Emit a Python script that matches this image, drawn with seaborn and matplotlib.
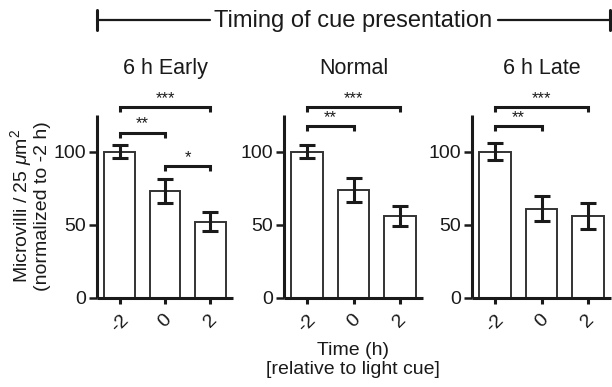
import matplotlib
matplotlib.use("Agg")
import matplotlib.pyplot as plt
import seaborn as sns
import pandas as pd
from matplotlib.lines import Line2D

# ---------------- data ----------------
conditions = ["6 h Early", "Normal", "6 h Late"]
times = ["-2", "0", "2"]
early_mean = [100, 73, 52]
early_err = [4.7, 8.0, 6.5]
normal_mean = [100, 74, 56]
normal_err = [4.7, 8.2, 6.8]
late_mean = [100, 61, 56]
late_err = [5.7, 8.4, 9.0]
# significance annotations: (bar i, bar j, label)
early_sig = [(0, 2, "***"), (0, 1, "**"), (1, 2, "*")]
normal_sig = [(0, 2, "***"), (0, 1, "**")]
late_sig = [(0, 2, "***"), (0, 1, "**")]
super_title = "Timing of cue presentation"
y_label = "Microvilli / 25 $\\mu$m$^2$\n(normalized to -2 h)"
x_label = "Time (h)\n[relative to light cue]"
y_ticks = [0, 50, 100]

means = [early_mean, normal_mean, late_mean]
errs = [early_err, normal_err, late_err]
sigs = [early_sig, normal_sig, late_sig]

# ---------------- style ----------------
sns.set_theme(style="ticks")
plt.rcParams["font.family"] = ["Liberation Sans", "DejaVu Sans"]
plt.rcParams["mathtext.fontset"] = "custom"
plt.rcParams["mathtext.rm"] = "Liberation Sans"
plt.rcParams["mathtext.it"] = "Liberation Sans:italic"
plt.rcParams["mathtext.bf"] = "Liberation Sans:bold"

W, H = 612, 387
fig = plt.figure(figsize=(W / 100, H / 100), dpi=100)
fig.patch.set_facecolor("white")

panel_x = [(97, 233), (284, 423), (472, 611)]
top, bottom = 115, 298
ink = "#1a1a1a"

# bracket level layout (per panel, per annotation index)
levels = [[130.4, 113.0, 90.0], [130.4, 117.6], [130.4, 117.6]]

for k, cond in enumerate(conditions):
    l, r = panel_x[k]
    ax = fig.add_axes([l / W, 1 - bottom / H, (r - l) / W, (bottom - top) / H])
    df = pd.DataFrame({"time": times, "value": means[k], "err": errs[k]})
    sns.barplot(data=df, x="time", y="value", order=times, ax=ax,
                color="white", edgecolor="#333333", linewidth=1.4,
                width=0.68, errorbar=None, saturation=1)
    ax.errorbar(x=range(len(times)), y=df["value"], yerr=df["err"],
                fmt="none", ecolor=ink, elinewidth=2.2, capsize=5.7,
                capthick=2.2, zorder=5)
    ax.set_xlim(-0.5, 2.5)
    ax.set_ylim(0, 125)
    ax.set_yticks(y_ticks)
    ax.set_xlabel("")
    ax.set_ylabel("")
    sns.despine(ax=ax)
    for s in ["left", "bottom"]:
        ax.spines[s].set_linewidth(2.2)
        ax.spines[s].set_color(ink)
        ax.spines[s].set_capstyle("butt")
    ax.tick_params(axis="y", length=5.8, width=1.8, labelsize=14, pad=2,
                   color=ink, labelcolor=ink)
    ax.tick_params(axis="x", length=4.5, width=2.2, labelsize=14, pad=5,
                   color=ink, labelcolor=ink)
    for lab in ax.get_xticklabels():
        lab.set_rotation(45)
        lab.set_ha("center")
    ax.patch.set_alpha(0)

    # significance brackets
    drop = 3.4
    for (i, j, lab), yv in zip(sigs[k], levels[k]):
        ax.plot([i, i, j, j], [yv - drop, yv, yv, yv - drop], color=ink,
                lw=2.2, clip_on=False, solid_capstyle="butt",
                solid_joinstyle="miter", zorder=6)
        ax.text((i + j) / 2, yv + 2.8, lab, ha="center", va="baseline",
                fontsize=12, color=ink, clip_on=False)

    # panel title
    fig.text((l + r) / 2 / W, 1 - 74 / H, cond, ha="center",
             va="baseline", fontsize=15.5, color=ink)

# super title with bracket line
ty = 1 - 20 / H
fig.text(353 / W, 1 - 21.5 / H, super_title, ha="center", va="center",
         fontsize=17, color=ink)
for (x0, x1) in [(97, 210), (498, 610)]:
    fig.add_artist(Line2D([x0 / W, x1 / W], [ty, ty], color=ink, lw=1.6,
                          transform=fig.transFigure))
for xe in [97, 610]:
    fig.add_artist(Line2D([xe / W, xe / W], [1 - 10 / H, 1 - 30 / H],
                          color=ink, lw=2.2, transform=fig.transFigure))

# axis labels
fig.text(30 / W, 1 - 206 / H, y_label, ha="center", va="center",
         rotation=90, fontsize=14, color=ink, linespacing=1.0)
fig.text(353 / W, 1 - 360 / H, x_label, ha="center", va="center",
         fontsize=14, color=ink, linespacing=1.1)

fig.savefig("out.png", dpi=100)
